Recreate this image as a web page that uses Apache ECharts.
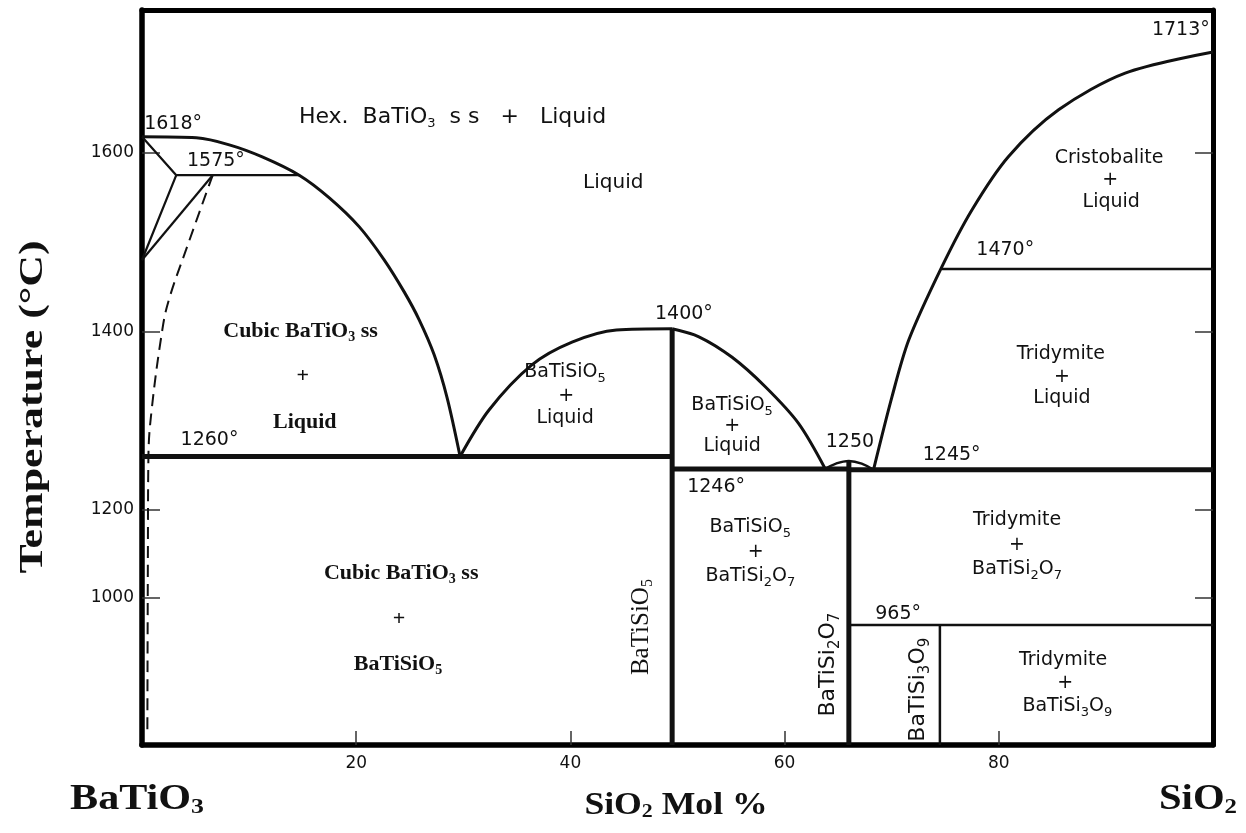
<!DOCTYPE html>
<html><head><meta charset="utf-8">
<script src="https://cdn.jsdelivr.net/npm/echarts@6/dist/echarts.min.js"></script>
<style>html,body{margin:0;padding:0;background:#fff}#c{width:1246px;height:833px}</style>
</head><body><div id="c"></div>
<script>
// ---- data (mol % SiO2, temperature °C) ----
const X_TICKS = [20, 40, 60, 80];
const Y_TICKS = [1000, 1200, 1400, 1600];
// non-linear temperature scale of the original figure (compressed below 1200 °C)
const SCALE_T = [850, 965, 1000, 1200, 1760];
const SCALE_U = [0, 120, 147, 235, 735];

const LIQ_BATIO3 = [[0,1618],[5.07,1616.8],[8.15,1609],[11.23,1595.5],[14.68,1575],[17.49,1549.6],[20.29,1517.1],[22.61,1480.2],[24.48,1444.3],[25.88,1413],[27.28,1373.8],[28.49,1325.6],[29.7,1260]];
const DOME_LEFT = [[29.7,1260],[32.4,1312],[36.4,1362.5],[40.15,1388],[44.3,1401.6],[49.5,1403]];
const DOME_RIGHT = [[49.5,1403],[52,1394],[55.1,1371],[58.2,1338],[61.3,1297],[63.8,1246]];
const DOME_SMALL = [[63.8,1246],[64.8,1252],[66,1255],[67.2,1252],[68.3,1245]];
const LIQ_SIO2 = [[68.3,1245],[70.03,1327],[71.6,1390.6],[74.67,1472],[77.49,1536],[80.91,1595.9],[85.58,1648.2],[91.8,1689.3],[100,1713]];
const SOLVUS = [[6.6,1575],[4.1,1491],[2.5,1435],[1.9,1402],[0.9,1312],[0.6,1260],[0.55,1100],[0.5,860]];
const CORNER_A = [[0,1618],[3.2,1575],[0,1480]];
const CORNER_B = [[0,1480],[6.6,1575]];
const ISO_1575 = [[3.2,1575],[14.68,1575]];
const ISO_1260 = [[0,1260],[49.5,1260]];
const ISO_1246 = [[49.5,1246],[66,1246]];
const ISO_1245 = [[66,1245],[100,1245]];
const ISO_1470 = [[74.67,1470],[100,1470]];
const ISO_965 = [[66,965],[100,965]];
const V_BATISIO5 = [[49.5,1403],[49.5,850]];
const V_BATISI2O7 = [[66,1255],[66,850]];
const V_BATISI3O9 = [[74.5,965],[74.5,850]];

// labels: [x, T, text, style, rotate]
const LABELS = [
  [2.9,1632,'1618°','s',0],
  [6.9,1591,'1575°','s',0],
  [29.0,1640,'Hex.  BaTiO{s|3}  s s   +   Liquid','h',0],
  [44.0,1566,'Liquid','s2',0],
  [14.8,1400,'Cubic BaTiO{b|3} ss','b',0],
  [15,1350,'+','b',0],
  [15.2,1298,'Liquid','b',0],
  [6.3,1278,'1260°','s',0],
  [39.5,1354,'BaTiSiO{s|5}','s',0],
  [39.6,1328,'+','s',0],
  [39.5,1303,'Liquid','s',0],
  [50.6,1420,'1400°','s',0],
  [55.1,1318,'BaTiSiO{s|5}','s',0],
  [55.1,1294,'+','s',0],
  [55.1,1272,'Liquid','s',0],
  [66.1,1276,'1250','s',0],
  [75.6,1261,'1245°','s',0],
  [53.6,1226,'1246°','s',0],
  [80.6,1491,'1470°','s',0],
  [97.0,1738,'1713°','s',0],
  [90.3,1594,'Cristobalite','s',0],
  [90.4,1570,'+','s',0],
  [90.5,1545,'Liquid','s',0],
  [85.8,1375,'Tridymite','s',0],
  [85.9,1349,'+','s',0],
  [85.9,1325,'Liquid','s',0],
  [81.7,1177,'Tridymite','s',0],
  [81.7,1120,'+','s',0],
  [81.7,1066,'BaTiSi{s|2}O{s|7}','s',0],
  [56.8,1161,'BaTiSiO{s|5}','s',0],
  [57.3,1105,'+','s',0],
  [56.8,1050,'BaTiSi{s|2}O{s|7}','s',0],
  [70.6,979,'965°','s',0],
  [86.0,931,'Tridymite','s',0],
  [86.2,909,'+','s',0],
  [86.4,887,'BaTiSi{s|3}O{s|9}','s',0],
  [24.2,1057,'Cubic BaTiO{b|3} ss','b',0],
  [24.0,973,'+','b',0],
  [23.9,927,'BaTiSiO{b|5}','b',0],
  [46.6,963,'BaTiSiO{r|5}','r',90],
  [64.1,927,'BaTiSi{v|2}O{v|7}','v',90],
  [72.5,903,'BaTiSi{v|3}O{v|9}','v',90]
];

// ---- scale helpers ----
function tf(T){
  let i = 0;
  while (i < SCALE_T.length - 2 && T > SCALE_T[i+1]) i++;
  const t0 = SCALE_T[i], t1 = SCALE_T[i+1], u0 = SCALE_U[i], u1 = SCALE_U[i+1];
  return u0 + (T - t0) * (u1 - u0) / (t1 - t0);
}
const conv = arr => arr.map(p => [p[0], tf(p[1])]);
const U_MAX = tf(1760);

const INK = '#111';
const SANS = 'DejaVu Sans';
const SERIF = 'Liberation Serif';
const richStyles = {
  s: { fontFamily: SANS, fontSize: 13, color: INK, verticalAlign: 'bottom', lineHeight: 8 },
  v: { fontFamily: SANS, fontSize: 15, color: INK, verticalAlign: 'bottom', lineHeight: 9 },
  b: { fontFamily: SERIF, fontSize: 14, fontWeight: 'bold', color: INK, verticalAlign: 'bottom', lineHeight: 8 },
  r: { fontFamily: SERIF, fontSize: 16, color: INK, verticalAlign: 'bottom', lineHeight: 9 }
};
const mainStyles = {
  s: { fontFamily: SANS, fontSize: 19, color: INK, lineHeight: 26 },
  s2: { fontFamily: SANS, fontSize: 20, color: INK, lineHeight: 26 },
  h: { fontFamily: SANS, fontSize: 22, color: INK, lineHeight: 26 },
  v: { fontFamily: SANS, fontSize: 22, color: INK, lineHeight: 28 },
  b: { fontFamily: SERIF, fontSize: 22, fontWeight: 'bold', color: INK, lineHeight: 26 },
  r: { fontFamily: SERIF, fontSize: 25, color: INK, lineHeight: 30 }
};

function lineSeries(data, width, type) {
  return {
    type: 'line', data: conv(data), showSymbol: false, silent: true,
    lineStyle: { color: INK, width: width, type: type || 'solid' },
    animation: false, z: 3
  };
}
function curveSeries(data, width, sm) {
  const s = lineSeries(data, width);
  s.smooth = sm || 0.3;
  return s;
}

const solvus = curveSeries(SOLVUS, 2, 0.4);
solvus.lineStyle.type = [12, 7];

const series = [
  curveSeries(LIQ_BATIO3, 3),
  curveSeries(DOME_LEFT, 3),
  curveSeries(DOME_RIGHT, 3),
  curveSeries(DOME_SMALL, 2.5, 0.4),
  curveSeries(LIQ_SIO2, 3),
  solvus,
  lineSeries(CORNER_A, 2.2),
  lineSeries(CORNER_B, 2.2),
  lineSeries(ISO_1575, 2.2),
  lineSeries(ISO_1260, 5),
  lineSeries(ISO_1246, 5),
  lineSeries(ISO_1245, 5),
  lineSeries(ISO_1470, 2.5),
  lineSeries(ISO_965, 2.5),
  lineSeries(V_BATISIO5, 5),
  lineSeries(V_BATISI2O7, 5),
  lineSeries(V_BATISI3O9, 2.5),
  {
    type: 'scatter', symbolSize: 0, silent: true, animation: false, z: 5,
    itemStyle: { color: INK, opacity: 1 },
    data: LABELS.map(l => ({
      value: [l[0], tf(l[1])],
      label: Object.assign({
        show: true, position: 'inside', formatter: l[2], rotate: l[4],
        align: 'center', verticalAlign: 'middle', opacity: 1,
        textBorderWidth: 0, textBorderColor: 'none', textShadowBlur: 0,
        rich: richStyles
      }, mainStyles[l[3]])
    }))
  }
];

const chart = echarts.init(document.getElementById('c'), null, { renderer: 'canvas' });
const yLabelMap = {};
Y_TICKS.forEach(t => { yLabelMap[tf(t).toFixed(3)] = String(t); });

chart.setOption({
  backgroundColor: '#fff',
  animation: false,
  grid: { left: 142, right: 33, top: 10, bottom: 88, containLabel: false },
  xAxis: [
    {
      type: 'value', min: 0, max: 100, position: 'bottom',
      axisLine: { show: true, onZero: false, lineStyle: { color: '#000', width: 5.5 } },
      axisTick: { show: true, inside: true, length: 14, customValues: X_TICKS, lineStyle: { color: '#333', width: 1.5 } },
      axisLabel: { show: true, customValues: X_TICKS, margin: 10, fontFamily: SANS, fontSize: 17, color: INK },
      splitLine: { show: false }
    },
    {
      type: 'value', min: 0, max: 100, position: 'top',
      axisLine: { show: true, onZero: false, lineStyle: { color: '#000', width: 5 } },
      axisTick: { show: false }, axisLabel: { show: false }, splitLine: { show: false }
    }
  ],
  yAxis: [
    {
      type: 'value', min: 0, max: U_MAX, position: 'left',
      axisLine: { show: true, onZero: false, lineStyle: { color: '#000', width: 5.5 } },
      axisTick: { show: true, inside: true, length: 18, customValues: Y_TICKS.map(tf), lineStyle: { color: '#333', width: 1.5 } },
      axisLabel: {
        show: true, customValues: Y_TICKS.map(tf), margin: 8, fontFamily: SANS, fontSize: 17, color: INK,
        formatter: v => yLabelMap[Number(v).toFixed(3)] || ''
      },
      splitLine: { show: false }
    },
    {
      type: 'value', min: 0, max: U_MAX, position: 'right',
      axisLine: { show: true, onZero: false, lineStyle: { color: '#000', width: 5 } },
      axisTick: { show: true, inside: true, length: 18, customValues: Y_TICKS.map(tf), lineStyle: { color: '#333', width: 1.5 } },
      axisLabel: { show: false }, splitLine: { show: false }
    }
  ],
  graphic: [
    { type: 'text', x: 33, y: 407, rotation: Math.PI / 2, scaleX: 1.33,
      style: { text: 'Temperature (°C)', font: 'bold 33px "Liberation Serif"', fill: '#111', align: 'center', verticalAlign: 'middle' } },
    { type: 'text', x: 137, y: 800, scaleX: 1.17,
      style: { text: 'BaTiO{sb|3}', font: 'bold 36px "Liberation Serif"', fill: '#111', align: 'center', verticalAlign: 'middle',
        rich: { sb: { font: 'bold 22px "Liberation Serif"', fill: '#111', verticalAlign: 'bottom', lineHeight: 14 } } } },
    { type: 'text', x: 676, y: 806, scaleX: 1.15,
      style: { text: 'SiO{sb|2} Mol %', font: 'bold 31px "Liberation Serif"', fill: '#111', align: 'center', verticalAlign: 'middle',
        rich: { sb: { font: 'bold 19px "Liberation Serif"', fill: '#111', verticalAlign: 'bottom', lineHeight: 12 } } } },
    { type: 'text', x: 1198, y: 800, scaleX: 1.13,
      style: { text: 'SiO{sb|2}', font: 'bold 36px "Liberation Serif"', fill: '#111', align: 'center', verticalAlign: 'middle',
        rich: { sb: { font: 'bold 22px "Liberation Serif"', fill: '#111', verticalAlign: 'bottom', lineHeight: 14 } } } }
  ],
  series: series
});
</script>
</body></html>
